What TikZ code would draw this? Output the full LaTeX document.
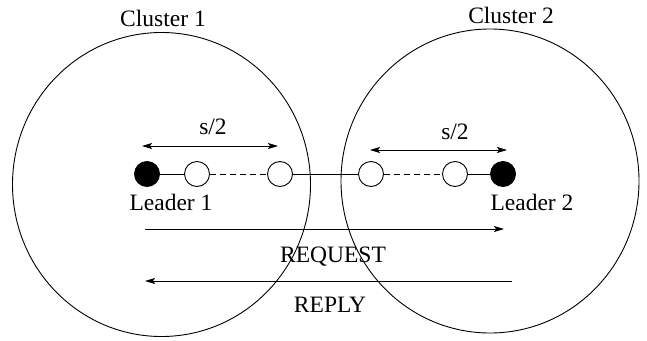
\documentclass[tikz,border=0pt]{standalone}
\usepackage{fontspec}
\setmainfont{Liberation Serif}
\usetikzlibrary{shapes.geometric,arrows.meta}
\begin{document}
\begin{tikzpicture}[x=1pt,y=-1pt,
  cluster/.style={draw,ellipse,minimum width=298pt,minimum height=304pt,inner sep=0pt,line width=0.9pt},
  member/.style={draw,circle,minimum size=25pt,inner sep=0pt,line width=0.9pt,fill=white},
  leader/.style={member,fill=black},
  lbl/.style={anchor=base,inner sep=0pt,font=\fontsize{23.5}{28}\selectfont},
  link/.style={line width=0.9pt},
  dlink/.style={line width=0.9pt,dash pattern=on 6pt off 4pt},
  msg/.style={line width=0.9pt,-{Stealth[length=10pt,width=6pt,inset=2pt]}},
  span/.style={line width=0.9pt,{Stealth[length=10pt,width=6pt,inset=2pt]}-{Stealth[length=10pt,width=6pt,inset=2pt]}}]
\useasboundingbox (0,0) rectangle (647,340);
\node[cluster] (c1) at (161.5,184.5) {};
\node[cluster] (c2) at (490,181) {};
\node[lbl] (t1) at (163,27) {Cluster 1};
\node[lbl] (t2) at (511,23) {Cluster 2};
% chain
\node[leader] (l1) at (147,174) {};
\node[member] (a1) at (197,174) {};
\node[member] (a2) at (280,174) {};
\node[member] (b2) at (371,174) {};
\node[member] (b1) at (455,174) {};
\node[leader] (l2) at (503,174) {};
\draw[link] (l1) -- (a1);
\draw[dlink] (a1) -- (a2);
\draw[link] (a2) -- (b2);
\draw[dlink] (b2) -- (b1);
\draw[link] (b1) -- (l2);
\node[lbl] (n1) at (171,210) {Leader 1};
\node[lbl] (n2) at (532,210) {Leader 2};
% s/2
\coordinate (sl1) at (142,146);
\coordinate (sl2) at (278,146);
\coordinate (sr1) at (370,150);
\coordinate (sr2) at (507,150);
\draw[span] (sl1) -- (sl2);
\draw[span] (sr1) -- (sr2);
\node[lbl] (h1) at (213,134) {s/2};
\node[lbl] (h2) at (455,139) {s/2};
% messages
\coordinate (q1) at (145,229);
\coordinate (q2) at (504,229);
\coordinate (r1) at (512,281);
\coordinate (r2) at (145,281);
\draw[msg] (q1) -- (q2);
\draw[msg] (r1) -- (r2);
\node[lbl] (rq) at (333,262) {REQUEST};
\node[lbl] (rp) at (330,312) {REPLY};
\end{tikzpicture}
\end{document}
